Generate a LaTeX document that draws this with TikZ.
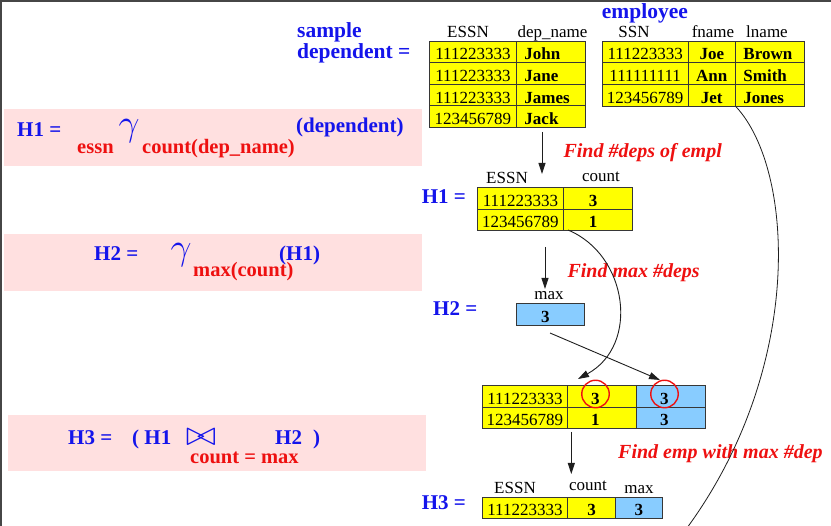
\documentclass[tikz,border=0pt]{standalone}
\usepackage{graphicx}
\usepackage{fontspec}
\setmainfont{Liberation Serif}
\usetikzlibrary{arrows.meta}
\definecolor{yel}{RGB}{255,255,0}
\definecolor{skyb}{RGB}{136,204,255}
\definecolor{pinkbg}{RGB}{255,224,224}
\definecolor{lblue}{RGB}{20,20,235}
\definecolor{lred}{RGB}{238,16,16}
\definecolor{edge}{RGB}{55,55,55}
\definecolor{framec}{RGB}{70,70,70}
\definecolor{linec}{RGB}{30,30,30}
\newcommand\jn{\scalebox{1.6}[1.4]{\ensuremath{\mathrel{\triangleright}\mkern-4mu\mathrel{\triangleleft}}}}
\newcommand\gm{\scalebox{1.5}{\ensuremath{\gamma}}}
\begin{document}
\begin{tikzpicture}[x=1pt,y=-1pt,
  cell/.style={draw=edge, line width=0.9pt, anchor=north west, inner ysep=0pt,
    minimum height=21.6pt, text height=17pt, text depth=1pt,
    font=\fontsize{17}{17}\selectfont, align=center},
  yc/.style={cell, fill=yel},
  bc/.style={cell, fill=skyb},
  hdr/.style={font=\fontsize{17}{17}\selectfont, anchor=base, inner sep=0pt},
  lab/.style={text=lblue, font=\bfseries\fontsize{21}{21}\selectfont, anchor=base west, inner sep=0pt},
  big/.style={lab, font=\bfseries\fontsize{21.5}{21.5}\selectfont},
  sub/.style={text=lred, font=\bfseries\fontsize{20.5}{20.5}\selectfont, anchor=base west, inner sep=0pt},
  gam/.style={text=lblue, font=\fontsize{24}{24}\selectfont, inner sep=0pt},
  bt/.style={text=lblue, font=\fontsize{24}{24}\selectfont, inner sep=0pt},
  note/.style={text=lred, font=\bfseries\itshape\fontsize{20}{20}\selectfont, anchor=base west, inner sep=0pt},
  arr/.style={draw=linec, line width=0.9pt, -{Triangle[length=11pt,width=7pt]}},
  thin/.style={draw=linec, line width=0.8pt},
  ring/.style={draw=lred, line width=1.4pt, circle, minimum size=27.5pt, inner sep=0pt},
]
\useasboundingbox (0,0) rectangle (831,526);
% frame
\draw[framec, line width=1.5pt] (0,1.2) -- (831,1.2);
\draw[framec, line width=1.5pt] (1.2,0) -- (1.2,526);
% pink boxes
\fill[pinkbg] (4,109.3) rectangle (421.7,165.7);
\fill[pinkbg] (4,234) rectangle (421.7,290.7);
\fill[pinkbg] (8.3,415) rectangle (426,471);

% formulas
\node[lab] (f1h) at (17,137) {H1 =};
\node[gam] (f1g) at (129,131.5) {\gm};
\node[sub] (f1e) at (77,153.5) {essn};
\node[sub] (f1c) at (142,153.5) {count(dep\_name)};
\node[lab] (f1d) at (296,133) {(dependent)};

\node[lab] (f2h) at (94,260.7) {H2 =};
\node[gam] (f2g) at (181,255) {\gm};
\node[sub] (f2m) at (193,276.7) {max(count)};
\node[lab] (f2a) at (279,260.7) {(H1)};

\node[lab] (f3h) at (68,444.3) {H3 =};
\node[lab] (f3a) at (132,444.3) {( H1};
\node[bt] (f3j) at (201,437) {\jn};
\node[lab] (f3b) at (275,444.3) {H2};
\node[lab] (f3c) at (313,444.3) {)};
\node[sub] (f3s) at (190,463.3) {count = max};

% top labels
\node[big] (ls) at (297,38) {sample};
\node[big] (ld) at (297,58.5) {dependent =};
\node[big] (le) at (601.7,18.3) {employee};

% dependent table
\node[hdr] (dh1) at (468,37.3) {ESSN};
\node[hdr] (dh2) at (552.5,37.3) {dep\_name};
\node[yc, minimum width=87pt, inner xsep=4pt, text width=79pt] (d11) at (429,40.7) {111223333};
\node[yc, minimum width=69pt, inner xsep=8pt, text width=53pt, align=left, font=\bfseries\fontsize{17}{17}\selectfont] (d12) at (516,40.7) {John};
\node[yc, minimum width=87pt, inner xsep=4pt, text width=79pt] (d21) at (429,62.3) {111223333};
\node[yc, minimum width=69pt, inner xsep=8pt, text width=53pt, align=left, font=\bfseries\fontsize{17}{17}\selectfont] (d22) at (516,62.3) {Jane};
\node[yc, minimum width=87pt, inner xsep=4pt, text width=79pt] (d31) at (429,83.9) {111223333};
\node[yc, minimum width=69pt, inner xsep=8pt, text width=53pt, align=left, font=\bfseries\fontsize{17}{17}\selectfont] (d32) at (516,83.9) {James};
\node[yc, minimum width=87pt, inner xsep=4pt, text width=79pt] (d41) at (429,105.5) {123456789};
\node[yc, minimum width=69pt, inner xsep=8pt, text width=53pt, align=left, font=\bfseries\fontsize{17}{17}\selectfont] (d42) at (516,105.5) {Jack};

% employee table
\node[hdr] (eh1) at (634,37.3) {SSN};
\node[hdr] (eh2) at (713,37.3) {fname};
\node[hdr] (eh3) at (767,37.3) {lname};
\node[yc, minimum width=86pt, inner xsep=4pt, text width=78pt] (e11) at (601.7,40.7) {111223333};
\node[yc, minimum width=47.3pt, inner xsep=2pt, text width=43.3pt, font=\bfseries\fontsize{17}{17}\selectfont] (e12) at (687.7,40.7) {Joe};
\node[yc, minimum width=69pt, inner xsep=8pt, text width=53pt, align=left, font=\bfseries\fontsize{17}{17}\selectfont] (e13) at (735,40.7) {Brown};
\node[yc, minimum width=86pt, inner xsep=4pt, text width=78pt] (e21) at (601.7,62.4) {111111111};
\node[yc, minimum width=47.3pt, inner xsep=2pt, text width=43.3pt, font=\bfseries\fontsize{17}{17}\selectfont] (e22) at (687.7,62.4) {Ann};
\node[yc, minimum width=69pt, inner xsep=8pt, text width=53pt, align=left, font=\bfseries\fontsize{17}{17}\selectfont] (e23) at (735,62.4) {Smith};
\node[yc, minimum width=86pt, inner xsep=4pt, text width=78pt] (e31) at (601.7,84.1) {123456789};
\node[yc, minimum width=47.3pt, inner xsep=2pt, text width=43.3pt, font=\bfseries\fontsize{17}{17}\selectfont] (e32) at (687.7,84.1) {Jet};
\node[yc, minimum width=69pt, inner xsep=8pt, text width=53pt, align=left, font=\bfseries\fontsize{17}{17}\selectfont] (e33) at (735,84.1) {Jones};

% H1 table
\node[lab] (l1) at (421.7,204) {H1 =};
\node[hdr] (hh1) at (507,183.3) {ESSN};
\node[hdr] (hh2) at (601,181.7) {count};
\node[yc, minimum width=86.6pt, minimum height=21.4pt, inner xsep=4pt, text width=78.6pt] (h11) at (476.7,187.3) {111223333};
\node[yc, minimum width=68.4pt, minimum height=21.4pt, inner xsep=25pt, text width=18.4pt, align=left, font=\bfseries\fontsize{17}{17}\selectfont] (h12) at (563.3,187.3) {3};
\node[yc, minimum width=86.6pt, minimum height=21.4pt, inner xsep=4pt, text width=78.6pt] (h21) at (476.7,208.7) {123456789};
\node[yc, minimum width=68.4pt, minimum height=21.4pt, inner xsep=25pt, text width=18.4pt, align=left, font=\bfseries\fontsize{17}{17}\selectfont] (h22) at (563.3,208.7) {1};

% H2 table
\node[lab] (l2) at (433,315.7) {H2 =};
\node[hdr] (mh) at (549,300) {max};
\node[bc, minimum width=68pt, minimum height=22pt, inner xsep=24.7pt, text width=18.6pt, align=left, font=\bfseries\fontsize{17}{17}\selectfont] (m1) at (516,303.3) {3};

% join table
\node[yc, minimum width=85.6pt, minimum height=21.7pt, inner xsep=4pt, text width=77.6pt] (j11) at (481.7,385) {111223333};
\node[yc, minimum width=68.7pt, minimum height=21.7pt, inner xsep=23.4pt, text width=21.9pt, align=left, font=\bfseries\fontsize{17}{17}\selectfont] (j12) at (567.3,385) {3};
\node[bc, minimum width=69pt, minimum height=21.7pt, inner xsep=23.7pt, text width=21.6pt, align=left, font=\bfseries\fontsize{17}{17}\selectfont] (j13) at (636,385) {3};
\node[yc, minimum width=85.6pt, minimum height=21.7pt, inner xsep=4pt, text width=77.6pt] (j21) at (481.7,406.7) {123456789};
\node[yc, minimum width=68.7pt, minimum height=21.7pt, inner xsep=23.4pt, text width=21.9pt, align=left, font=\bfseries\fontsize{17}{17}\selectfont] (j22) at (567.3,406.7) {1};
\node[bc, minimum width=69pt, minimum height=21.7pt, inner xsep=23.7pt, text width=21.6pt, align=left, font=\bfseries\fontsize{17}{17}\selectfont] (j23) at (636,406.7) {3};
\node[ring] (r1) at (595.5,394) {};
\node[ring] (r2) at (664.5,394) {};

% H3 table
\node[lab] (l3) at (421.7,510) {H3 =};
\node[hdr] (kh1) at (515,493.3) {ESSN};
\node[hdr] (kh2) at (588,491) {count};
\node[hdr] (kh3) at (639,493.3) {max};
\node[yc, minimum width=85.6pt, inner xsep=4pt, text width=77.6pt] (k11) at (481.7,496.7) {111223333};
\node[yc, minimum width=47.7pt, inner xsep=2pt, text width=43.7pt, font=\bfseries\fontsize{17}{17}\selectfont] (k12) at (567.3,496.7) {3};
\node[bc, minimum width=46.7pt, inner xsep=2pt, text width=42.7pt, font=\bfseries\fontsize{17}{17}\selectfont] (k13) at (615,496.7) {3};

% notes
\node[note] (n1) at (563.3,157.3) {Find \#deps of empl};
\node[note] (n2) at (567.3,277.3) {Find max \#deps};
\node[note] (n3) at (618,458.3) {Find emp with max \#dep};

% arrows
\coordinate (a1s) at (542,132);   \coordinate (a1e) at (542,174);
\coordinate (a2s) at (545,247);   \coordinate (a2e) at (545,289);
\coordinate (a3s) at (571.3,432); \coordinate (a3e) at (571.3,474);
\coordinate (a4s) at (550,333);   \coordinate (a4e) at (660,380);
\coordinate (c1s) at (568,230);   \coordinate (c1e) at (578,379);
\coordinate (c2e) at (684,532);
\draw[arr] (a1s) -- (a1e);
\draw[arr] (a2s) -- (a2e);
\draw[arr] (a3s) -- (a3e);
\draw[arr] (a4s) -- (a4e);
\draw[arr] (c1s) .. controls (628,255) and (640,345) .. (c1e);
\draw[thin] (e32.south east) .. controls (795,170) and (805,370) .. (c2e);
\end{tikzpicture}
\end{document}
